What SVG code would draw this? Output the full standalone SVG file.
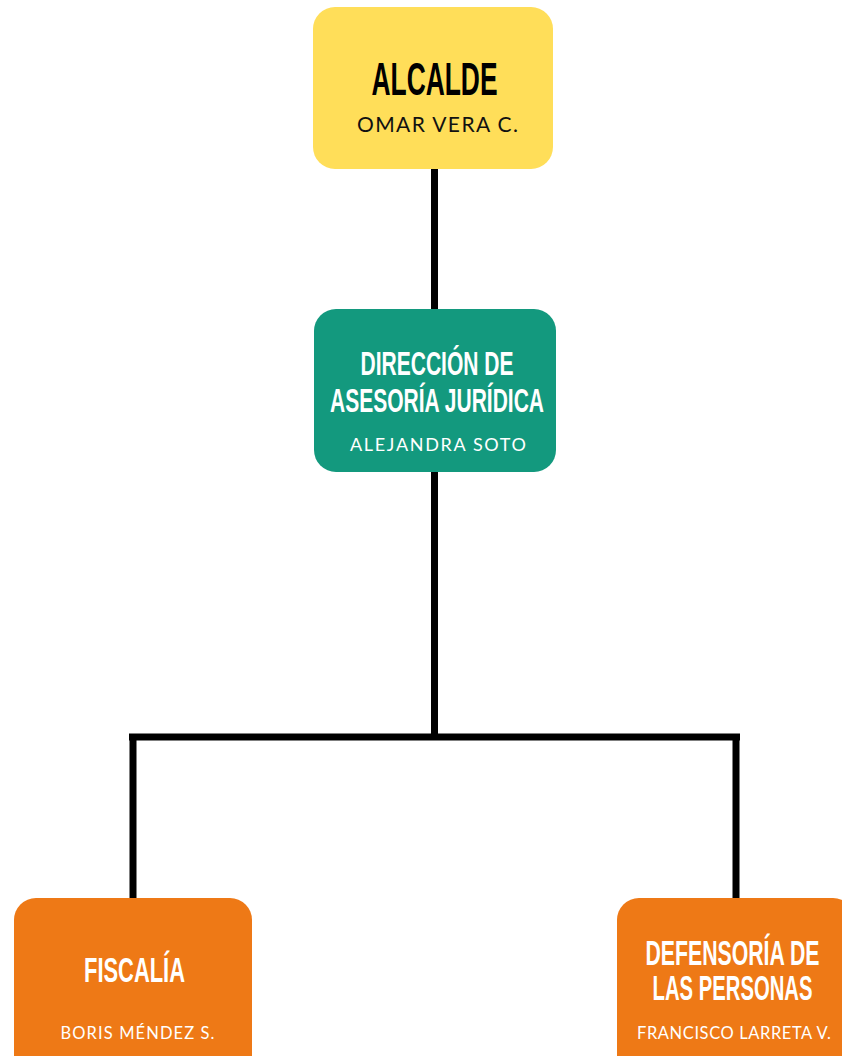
<svg xmlns="http://www.w3.org/2000/svg" width="842" height="1056" viewBox="0 0 842 1056">
<style>
.title{font-family:"Liberation Sans",Arial,sans-serif;font-weight:bold;text-anchor:middle}
.sub{font-family:Lato,"Liberation Sans",sans-serif;text-anchor:middle}
.w{fill:#ffffff}
.k{fill:#000000}
.conn{stroke:#000000;stroke-width:7;fill:none}
</style>
<rect width="842" height="1056" fill="#ffffff"/>
<g id="connectors">
<line class="conn" x1="434.5" y1="165" x2="434.5" y2="312"/>
<line class="conn" x1="434.5" y1="470" x2="434.5" y2="737"/>
<line class="conn" x1="129" y1="737" x2="740" y2="737"/>
<line class="conn" x1="133" y1="737" x2="133" y2="900"/>
<line class="conn" x1="736" y1="737" x2="736" y2="900"/>
</g>
<g id="alcalde">
<rect x="313" y="7" width="240" height="162" rx="22" fill="#FFDE59"/>
<text class="title k" x="434.5" y="95" font-size="47" textLength="126" lengthAdjust="spacingAndGlyphs">ALCALDE</text>
<text class="sub" x="437.5" y="132" font-size="21" fill="#111111" textLength="161" lengthAdjust="spacing">OMAR VERA C.</text>
</g>
<g id="direccion">
<rect x="314" y="309" width="242" height="163" rx="22" fill="#13997E"/>
<text class="title w" x="437" y="375" font-size="33.5" textLength="153" lengthAdjust="spacingAndGlyphs">DIRECCIÓN DE</text>
<text class="title w" x="437" y="411.5" font-size="33.5" textLength="214" lengthAdjust="spacingAndGlyphs">ASESORÍA JURÍDICA</text>
<text class="sub w" x="438" y="451" font-size="18" textLength="176" lengthAdjust="spacing">ALEJANDRA SOTO</text>
</g>
<g id="fiscalia">
<rect x="14" y="898" width="238" height="180" rx="22" fill="#EE7916"/>
<text class="title w" x="134.5" y="982" font-size="35" textLength="101" lengthAdjust="spacingAndGlyphs">FISCALÍA</text>
<text class="sub w" x="137.5" y="1038.5" font-size="16.5" textLength="154" lengthAdjust="spacing">BORIS MÉNDEZ S.</text>
</g>
<g id="defensoria">
<rect x="617" y="898" width="238" height="180" rx="22" fill="#EE7916"/>
<text class="title w" x="732.5" y="965" font-size="35" textLength="174" lengthAdjust="spacingAndGlyphs">DEFENSORÍA DE</text>
<text class="title w" x="732.5" y="1000" font-size="35" textLength="160" lengthAdjust="spacingAndGlyphs">LAS PERSONAS</text>
<text class="sub w" x="734" y="1038.7" font-size="16.5" textLength="194" lengthAdjust="spacing">FRANCISCO LARRETA V.</text>
</g>
</svg>
